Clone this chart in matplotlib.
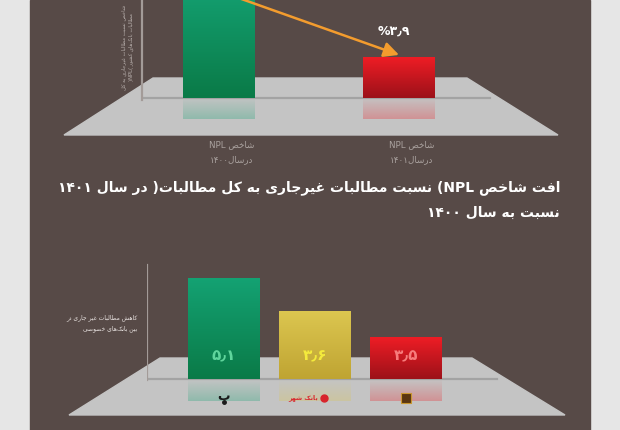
import numpy as np
import matplotlib
matplotlib.use('Agg')
import matplotlib.pyplot as plt
from matplotlib.colors import LinearSegmentedColormap, to_rgb
from matplotlib.patches import Polygon, Rectangle

# ---------------- data ----------------
top_labels_l1 = ['شاخص NPL', 'شاخص NPL']
top_labels_l2 = ['درسال۱۴۰۰', 'درسال۱۴۰۱']
top_values = [11.0, 3.9]          # 1400 bar runs off the top of the picture
top_value_label = '۳٫۹%'
top_ylabel = ['شاخص نسبت مطالبات غیرجاری به کل', 'مطالبات بانک‌های کشور (NPL)']

title_l1 = 'افت شاخص NPL( نسبت مطالبات غیرجاری به کل مطالبات) در سال ۱۴۰۱'
title_l2 = 'نسبت به سال ۱۴۰۰'

bottom_value_labels = ['۵٫۱', '۳٫۶', '۳٫۵']
bottom_heights = [5.1, 3.43, 2.12]   # drawn bar heights
bottom_ylabel = ['کاهش مطالبات غیر جاری در', 'بین بانک‌های خصوصی']

# ---------------- minimal Persian shaping ----------------
FORMS = {
    'ا': ('\uFE8D', '\uFE8E', None, None), 'آ': ('\uFE81', '\uFE82', None, None),
    'ب': ('\uFE8F', '\uFE90', '\uFE91', '\uFE92'), 'پ': ('\uFB56', '\uFB57', '\uFB58', '\uFB59'),
    'ت': ('\uFE95', '\uFE96', '\uFE97', '\uFE98'), 'ث': ('\uFE99', '\uFE9A', '\uFE9B', '\uFE9C'),
    'ج': ('\uFE9D', '\uFE9E', '\uFE9F', '\uFEA0'), 'چ': ('\uFB7A', '\uFB7B', '\uFB7C', '\uFB7D'),
    'ح': ('\uFEA1', '\uFEA2', '\uFEA3', '\uFEA4'), 'خ': ('\uFEA5', '\uFEA6', '\uFEA7', '\uFEA8'),
    'د': ('\uFEA9', '\uFEAA', None, None), 'ذ': ('\uFEAB', '\uFEAC', None, None),
    'ر': ('\uFEAD', '\uFEAE', None, None), 'ز': ('\uFEAF', '\uFEB0', None, None),
    'ژ': ('\uFB8A', '\uFB8B', None, None),
    'س': ('\uFEB1', '\uFEB2', '\uFEB3', '\uFEB4'), 'ش': ('\uFEB5', '\uFEB6', '\uFEB7', '\uFEB8'),
    'ص': ('\uFEB9', '\uFEBA', '\uFEBB', '\uFEBC'), 'ض': ('\uFEBD', '\uFEBE', '\uFEBF', '\uFEC0'),
    'ط': ('\uFEC1', '\uFEC2', '\uFEC3', '\uFEC4'), 'ظ': ('\uFEC5', '\uFEC6', '\uFEC7', '\uFEC8'),
    'ع': ('\uFEC9', '\uFECA', '\uFECB', '\uFECC'), 'غ': ('\uFECD', '\uFECE', '\uFECF', '\uFED0'),
    'ف': ('\uFED1', '\uFED2', '\uFED3', '\uFED4'), 'ق': ('\uFED5', '\uFED6', '\uFED7', '\uFED8'),
    'ک': ('\uFB8E', '\uFB8F', '\uFB90', '\uFB91'), 'گ': ('\uFB92', '\uFB93', '\uFB94', '\uFB95'),
    'ل': ('\uFEDD', '\uFEDE', '\uFEDF', '\uFEE0'), 'م': ('\uFEE1', '\uFEE2', '\uFEE3', '\uFEE4'),
    'ن': ('\uFEE5', '\uFEE6', '\uFEE7', '\uFEE8'), 'و': ('\uFEED', '\uFEEE', None, None),
    'ه': ('\uFEE9', '\uFEEA', '\uFEEB', '\uFEEC'), 'ی': ('\uFBFC', '\uFBFD', '\uFBFE', '\uFBFF'),
}
LAM_ALEF = {'ا': ('\uFEFB', '\uFEFC'), 'آ': ('\uFEF5', '\uFEF6')}


def shape(s):
    out = []
    i = 0
    n = len(s)
    while i < n:
        ch = s[i]
        if ch not in FORMS:
            if ch != '\u200c':
                out.append(ch)
            i += 1
            continue
        prev = s[i - 1] if i > 0 else None
        nxt = s[i + 1] if i + 1 < n else None
        jp = prev in FORMS and FORMS[prev][2] is not None
        if ch == 'ل' and nxt in LAM_ALEF:
            out.append(LAM_ALEF[nxt][1 if jp else 0])
            i += 2
            continue
        f = FORMS[ch]
        jn = nxt in FORMS and f[2] is not None
        if jp and jn:
            g = f[3]
        elif jp:
            g = f[1]
        elif jn:
            g = f[2]
        else:
            g = f[0]
        out.append(g)
        i += 1
    return ''.join(out)


LTR = set('ABCDEFGHIJKLMNOPQRSTUVWXYZabcdefghijklmnopqrstuvwxyz0123456789۰۱۲۳۴۵۶۷۸۹٫.')


def visual(s):
    s = shape(s)
    runs, cur, cl = [], '', None
    for ch in s:
        l = ch in LTR
        if cur and l != cl:
            runs.append((cur, cl))
            cur = ''
        cur += ch
        cl = l
    if cur:
        runs.append((cur, cl))
    return ''.join(r if l else r[::-1] for r, l in reversed(runs))


plt.rcParams['font.family'] = ['DejaVu Sans']

# ---------------- helpers ----------------
def gradient_fill(ax, patch, c_top, c_bot, a_top=1.0, a_bot=1.0):
    x0, y0 = patch.get_x(), patch.get_y()
    w, h = patch.get_width(), patch.get_height()
    rt, rb = to_rgb(c_top), to_rgb(c_bot)
    cmap = LinearSegmentedColormap.from_list('g', [(*rb, a_bot), (*rt, a_top)])
    grad = np.linspace(0, 1, 256).reshape(-1, 1)
    ylo, yhi = min(y0, y0 + h), max(y0, y0 + h)
    if h < 0:
        grad = grad[::-1]
    im = ax.imshow(grad, extent=(x0, x0 + w, ylo, yhi), origin='lower', cmap=cmap,
                   aspect='auto', zorder=patch.get_zorder(), interpolation='bicubic')
    im.set_clip_path(patch)


# ---------------- figure ----------------
fig = plt.figure(figsize=(6.2, 4.3), dpi=100, facecolor='#e6e6e6')
bg = fig.add_axes([0, 0, 1, 1])
bg.set_xlim(0, 620)
bg.set_ylim(430, 0)
bg.axis('off')
bg.add_patch(Rectangle((30, 0), 560, 430, color='#574a47', zorder=0))
bg.add_patch(Polygon([(153, 78), (467, 78), (558, 135), (64, 135)], closed=True,
                     color='#c4c4c4', zorder=1))
bg.add_patch(Polygon([(160, 358), (472, 358), (565, 415), (69, 415)], closed=True,
                     color='#c4c4c4', zorder=1))

# titles
bg.text(560, 188, visual(title_l1), color='white', fontsize=10, fontweight='bold',
        ha='right', va='center')
bg.text(560, 213, visual(title_l2), color='white', fontsize=10, fontweight='bold',
        ha='right', va='center')

# top y-label (rotated)
bg.text(124, 47, visual(top_ylabel[0]), color='#b8b0ad', fontsize=3.8, rotation=90,
        ha='center', va='center')
bg.text(131, 47, visual(top_ylabel[1]), color='#b8b0ad', fontsize=3.8, rotation=90,
        ha='center', va='center')

# bottom y-label
bg.text(137, 318, visual(bottom_ylabel[0]), color='#ece6e4', fontsize=4.3,
        ha='right', va='center')
bg.text(137, 329, visual(bottom_ylabel[1]), color='#ece6e4', fontsize=4.3,
        ha='right', va='center')

# ---------------- top chart ----------------
u1 = 3.9 / 41.0
axT = fig.add_axes([142 / 620, (430 - 125) / 430, 388 / 620, 125 / 430])
axT.patch.set_alpha(0)
axT.axis('off')
xt = np.arange(len(top_values))
top_cols = [('#14a273', '#0a7a47'), ('#ee1d25', '#9c1119')]
bars = axT.bar(xt, top_values, width=0.4, color='none', zorder=3)
for b, (ct, cb) in zip(bars, top_cols):
    gradient_fill(axT, b, ct, cb)
refl = axT.bar(xt, [-2.0] * len(xt), width=0.4, color='none', zorder=2)
for b, (ct, cb) in zip(refl, top_cols):
    gradient_fill(axT, b, ct, ct, a_top=0.3, a_bot=0.0)
xl = -77 / 180
axT.set_xlim(xl, 311 / 180)
axT.set_ylim(-27 * u1, 98 * u1)
axT.plot([xl, xl], [-0.2, 12], color='#a39b98', lw=1.6, zorder=4, clip_on=False)
axT.plot([xl, 1.506], [0, 0], color='#a3a3a3', lw=1.6, zorder=2.5)
axT.annotate('', xy=(1.0, 4.1), xytext=(0.07, 9.75),
             arrowprops=dict(arrowstyle='-|>,head_length=0.9,head_width=0.45',
                             color='#f39c2e', lw=1.8, shrinkA=0, shrinkB=0),
             annotation_clip=False, zorder=5)
axT.text(xt[1] - 0.03, 6.4, visual(top_value_label), color='white', fontsize=9,
         fontweight='bold', ha='center', va='center', zorder=6)
for x, l1, l2 in zip(xt, top_labels_l1, top_labels_l2):
    axT.text(x + 0.07, -47 * u1, visual(l1), color='#aaa29f', fontsize=6.3,
             ha='center', va='center', clip_on=False)
    axT.text(x + 0.07, -62 * u1, visual(l2), color='#aaa29f', fontsize=6.3,
             ha='center', va='center', clip_on=False)

# ---------------- bottom chart ----------------
u2 = 5.1 / 101.0
axB = fig.add_axes([147 / 620, (430 - 405) / 430, 353 / 620, 143 / 430])
axB.patch.set_alpha(0)
axB.axis('off')
xb = np.arange(len(bottom_heights))
bot_cols = [('#14a273', '#0a7a47'), ('#dcc650', '#bfa432'), ('#ee1d25', '#9c1119')]
lab_cols = ['#5fd59c', '#f4ea3c', '#f77c7c']
bb = axB.bar(xb, bottom_heights, width=72 / 91, color='none', zorder=3)
for b, (ct, cb) in zip(bb, bot_cols):
    gradient_fill(axB, b, ct, cb)
rb = axB.bar(xb, [-1.1] * len(xb), width=72 / 91, color='none', zorder=2)
for b, (ct, cb) in zip(rb, bot_cols):
    gradient_fill(axB, b, ct, ct, a_top=0.3, a_bot=0.0)
xl2 = -77 / 91
axB.set_xlim(xl2, 276 / 91)
axB.set_ylim(-26 * u2, 117 * u2)
axB.plot([xl2, xl2], [-0.05, 114 * u2], color='#a39b98', lw=1.6, zorder=4)
axB.plot([xl2, 273 / 91], [0, 0], color='#a3a3a3', lw=1.6, zorder=2.5)
for x, lab, c in zip(xb, bottom_value_labels, lab_cols):
    axB.text(x, 23 * u2, visual(lab), color=c, fontsize=11, fontweight='bold',
             ha='center', va='center', zorder=6)

# bank logos under the floor
ly = -19 * u2
axB.text(xb[0], ly + 0.08, '\uFE8F', color='#1a1a1a', fontsize=9, fontweight='bold',
         ha='center', va='center', zorder=6)
axB.plot([xb[0]], [ly - 0.2], marker='o', ms=2.5, color='#1a1a1a', zorder=6)
axB.plot([xb[1] + 0.1], [ly], marker='o', ms=5, color='#d8242c', zorder=6)
axB.text(xb[1] + 0.03, ly, visual('بانک شهر'), color='#d8242c', fontsize=4.5,
         fontweight='bold', ha='right', va='center', zorder=6)
axB.plot([xb[2]], [ly], marker='s', ms=7, color='#5a3510', mec='#c9962e', mew=0.8, zorder=6)

fig.savefig('out.png', dpi=100, facecolor=fig.get_facecolor())
